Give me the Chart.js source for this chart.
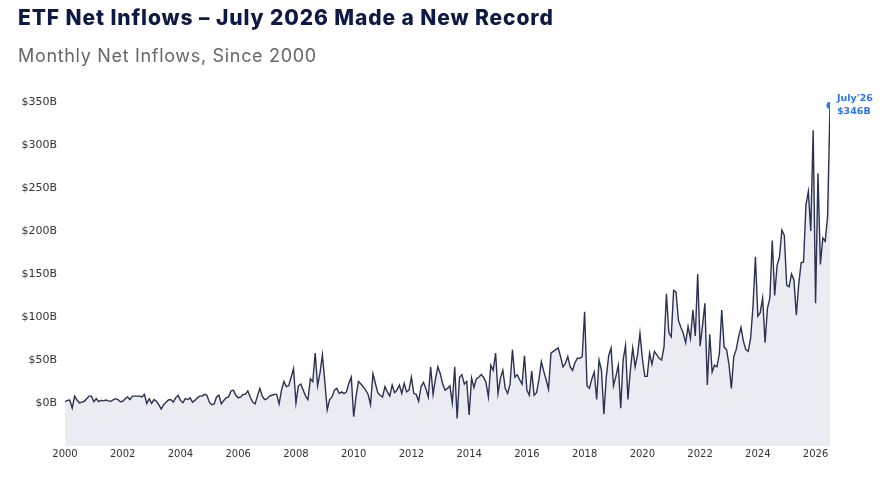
<!DOCTYPE html>
<html>
<head>
<meta charset="utf-8">
<title>ETF Net Inflows</title>
<script src="https://cdn.jsdelivr.net/npm/chart.js@4.4.1/dist/chart.umd.min.js"></script>
<style>
  html, body { margin: 0; padding: 0; background: #ffffff; }
  #wrap { position: relative; width: 885px; height: 484px; overflow: hidden; }
  #title { position: absolute; left: 18px; top: 5px; margin: 0; font: 800 21px Inter, sans-serif; letter-spacing: 0.9px; color: #0e1a45; white-space: nowrap; }
  #subtitle { position: absolute; left: 18px; top: 45px; margin: 0; font: 400 18px Inter, sans-serif; letter-spacing: 0.68px; color: #666666; white-space: nowrap; }
  #chart { position: absolute; left: 0; top: 0; }
</style>
</head>
<body>
<div id="wrap">
  <canvas id="chart" width="885" height="484"></canvas>
  <div id="title">ETF Net Inflows – July 2026 Made a New Record</div>
  <div id="subtitle">Monthly Net Inflows, Since 2000</div>
</div>
<script>
// Monthly net inflows, $B, one array per year
const y2000 = [1.5, 3, 3.5, -6, 8, 3.5, 0, 1, 2, 5, 8, 8];
const y2001 = [1.5, 5, 1.5, 3, 2.5, 3.5, 2.5, 2, 3.5, 5, 4, 1.5];
const y2002 = [2, 5, 7, 4, 8, 8, 8, 8, 7, 10, -0.5, 5];
const y2003 = [-0.5, 4, 2, -2, -7, -2, 1, 3.5, 4, 1, 6, 9];
const y2004 = [3, 0.5, 5, 4, 6, 1, 3, 6, 8, 8, 10, 9];
const y2005 = [1, -2, -1, 7, 9, -1, 3, 6, 7, 14, 15, 9];
const y2006 = [6, 7, 10, 10, 14, 7, 1, -1, 8, 17, 8, 4];
const y2007 = [5, 8, 9, 10, 10, -1, 15, 25, 19, 20, 30, 40];
const y2008 = [0, 20, 22, 15, 8, 4, 28, 25, 58, 20, 35, 56];
const y2009 = [25, -8, 4, 7, 15, 17, 11, 13, 11, 13, 23, 30];
const y2010 = [-16, 8, 25, 22, 19, 15, 10, -2, 34, 23, 12, 9];
const y2011 = [7, 19, 13, 8, 21, 12, 15, 21, 11, 23, 13, 15];
const y2012 = [30, 11, 10, 2, 19, 24, 17, 7, 42, 10, 28, 42];
const y2013 = [34, 22, 15, 17, 20, 0, 42, -18, 30, 33, 22, 25];
const y2014 = [-14, 29, 18, 28, 30, 33, 30, 24, 7, 44, 38, 58];
const y2015 = [11, 29, 38, 17, 11, 22, 62, 30, 33, 27, 22, 55];
const y2016 = [15, 9, 37, 9, 12, 27, 48, 37, 27, 16, 58, 60];
const y2017 = [62, 64, 54, 42, 46, 54, 42, 38, 47, 52, 52, 54];
const y2018 = [106, 20, 17, 28, 36, 4, 50, 38, -13, 30, 55, 64];
const y2019 = [20, 31, 44, -6, 50, 67, 4, 38, 64, 42, 56, 81];
const y2020 = [52, 31, 31, 58, 45, 60, 56, 52, 50, 65, 127, 82];
const y2021 = [77, 131, 129, 96, 88, 81, 70, 89, 75, 108, 78, 150];
const y2022 = [66, 90, 116, 21, 80, 36, 44, 42, 57, 108, 65, 62];
const y2023 = [45, 17, 54, 62, 77, 88, 72, 62, 60, 75, 113, 170];
const y2024 = [101, 105, 122, 70, 110, 122, 189, 125, 160, 170, 201, 195];
const y2025 = [137, 135, 150, 143, 102, 138, 163, 164, 230, 246, 200, 317];
const y2026 = [116, 267, 161, 192, 188, 217, 346];

const years = [2000, 2001, 2002, 2003, 2004, 2005, 2006, 2007, 2008, 2009, 2010, 2011, 2012,
  2013, 2014, 2015, 2016, 2017, 2018, 2019, 2020, 2021, 2022, 2023, 2024, 2025, 2026];
const yearlySeries = [y2000, y2001, y2002, y2003, y2004, y2005, y2006, y2007, y2008, y2009,
  y2010, y2011, y2012, y2013, y2014, y2015, y2016, y2017, y2018, y2019, y2020, y2021,
  y2022, y2023, y2024, y2025, y2026];
const yTicks = [0, 50, 100, 150, 200, 250, 300, 350];
const lastLabel = "July'26";

// month positions as fractional years
const monthPos = [];
const inflows = [];
years.forEach(function(yr, k) {
  yearlySeries[k].forEach(function(v, m) {
    monthPos.push(yr + m / 12);
    inflows.push(v);
  });
});
const lastIndex = inflows.length - 1;

// Label next to the record month
const recordLabel = {
  id: 'recordLabel',
  afterDatasetsDraw(chart) {
    const meta = chart.getDatasetMeta(0);
    const pt = meta.data[lastIndex];
    if (!pt) return;
    const ctx = chart.ctx;
    ctx.save();
    ctx.fillStyle = '#2f76e8';
    ctx.font = 'bold 9.5px "DejaVu Sans"';
    ctx.textAlign = 'left';
    ctx.textBaseline = 'middle';
    ctx.fillText(lastLabel, pt.x + 7, pt.y - 7);
    ctx.fillText('$' + Math.round(inflows[lastIndex]) + 'B', pt.x + 7, pt.y + 6);
    ctx.restore();
  }
};

const ctx = document.getElementById('chart');
new Chart(ctx, {
  type: 'line',
  data: {
    labels: monthPos,
    datasets: [{
      data: inflows,
      borderColor: '#2a3152',
      borderWidth: 1.4,
      backgroundColor: '#ebecf1',
      fill: 'start',
      tension: 0,
      pointRadius: function(c) { return c.dataIndex === lastIndex ? 3.5 : 0; },
      pointBackgroundColor: '#2f76e8',
      pointBorderColor: '#2f76e8',
      pointBorderWidth: 0
    }]
  },
  options: {
    responsive: false,
    animation: false,
    layout: {
      padding: { top: 102, right: 55, left: 0, bottom: 0 }
    },
    plugins: {
      legend: { display: false },
      tooltip: { enabled: false }
    },
    scales: {
      x: {
        type: 'linear',
        min: years[0],
        max: monthPos[lastIndex],
        grid: { display: false, drawTicks: false },
        border: { display: false },
        ticks: {
          stepSize: 2,
          includeBounds: false,
          maxRotation: 0,
          padding: 2,
          color: '#333333',
          font: { size: 10, family: 'DejaVu Sans' },
          callback: function(value) { return String(value); }
        },
        afterFit: function(scale) { scale.height = 38; }
      },
      y: {
        min: -50,
        max: yTicks[yTicks.length - 1],
        grid: { display: false, drawTicks: false },
        border: { display: false },
        ticks: {
          stepSize: 50,
          padding: 8,
          color: '#333333',
          font: { size: 11, family: 'DejaVu Sans' },
          callback: function(value) {
            return yTicks.indexOf(value) === -1 ? '' : '$' + value + 'B';
          }
        },
        afterFit: function(scale) { scale.width = 65; }
      }
    }
  },
  plugins: [recordLabel]
});
</script>
</body>
</html>
